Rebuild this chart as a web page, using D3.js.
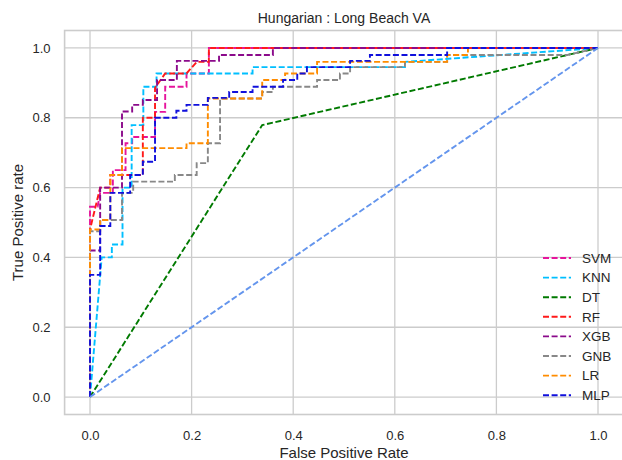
<!DOCTYPE html>
<html>
<head>
<meta charset="utf-8">
<script src="https://cdn.jsdelivr.net/npm/d3@7"></script>
<style>
  body { margin: 0; background: #fff; }
  svg { display: block; font-family: "Liberation Sans", Arial, sans-serif; }
</style>
</head>
<body>
<svg id="chart" width="622" height="460"></svg>
<script>
// ROC curves, Hungarian : Long Beach VA
const modelNames = ['SVM', 'KNN', 'DT', 'RF', 'XGB', 'GNB', 'LR', 'MLP'];
const modelColors = ['#e6149c', '#00bfff', '#007a00', '#ff1a1a', '#8b0a8b', '#888888', '#ff8c00', '#1010dc'];

// each curve as [fpr, tpr] pairs
const svm = [[0,0],[0,0.545],[0.015,0.545],[0.02,0.585],[0.045,0.585],[0.045,0.65],[0.07,0.65],[0.07,0.727],
  [0.083,0.727],[0.083,0.745],[0.128,0.745],[0.128,0.817],[0.148,0.817],[0.148,0.889],[0.19,0.889],
  [0.19,0.927],[0.234,0.927],[0.234,1],[1,1]];
const knn = [[0,0],[0.023,0.40],[0.043,0.40],[0.043,0.437],[0.064,0.437],[0.064,0.6],[0.082,0.6],[0.082,0.779],
  [0.105,0.779],[0.105,0.889],[0.131,0.889],[0.131,0.927],[0.32,0.927],[0.32,0.945],[0.62,0.945],
  [0.62,0.96],[1,1]];
const dt = [[0,0],[0.339,0.779],[1,1]];
const rf = [[0,0],[0,0.48],[0.02,0.6],[0.04,0.6],[0.04,0.636],[0.104,0.636],[0.104,0.8],[0.128,0.8],
  [0.128,0.886],[0.148,0.927],[0.19,0.927],[0.21,0.96],[0.234,0.96],[0.234,1],[1,1]];
const xgb = [[0,0],[0,0.42],[0.02,0.42],[0.02,0.6],[0.063,0.6],[0.063,0.818],[0.083,0.818],[0.083,0.837],
  [0.104,0.837],[0.104,0.851],[0.132,0.851],[0.132,0.908],[0.171,0.908],[0.171,0.963],[0.254,0.963],
  [0.254,0.98],[0.36,0.98],[0.36,1],[1,1]];
const gnb = [[0,0],[0,0.475],[0.02,0.475],[0.02,0.507],[0.063,0.507],[0.063,0.585],[0.085,0.585],[0.085,0.617],
  [0.167,0.617],[0.167,0.636],[0.21,0.636],[0.21,0.67],[0.232,0.67],[0.232,0.727],[0.256,0.727],
  [0.256,0.855],[0.339,0.855],[0.339,0.874],[0.36,0.874],[0.36,0.889],[0.447,0.889],[0.447,0.908],
  [0.492,0.908],[0.492,0.927],[0.512,0.927],[0.512,0.945],[0.62,0.945],[0.62,0.96],[0.703,0.96],
  [0.703,0.98],[0.94,0.98],[1,1]];
const lr = [[0,0],[0,0.48],[0.02,0.48],[0.02,0.507],[0.04,0.507],[0.04,0.636],[0.063,0.636],[0.063,0.713],
  [0.19,0.713],[0.19,0.727],[0.232,0.727],[0.232,0.855],[0.339,0.855],[0.339,0.908],[0.384,0.908],
  [0.384,0.927],[0.447,0.927],[0.447,0.96],[0.703,0.96],[0.703,0.98],[0.744,0.98],[0.744,1],[1,1]];
const mlp = [[0,0],[0,0.35],[0.02,0.35],[0.02,0.49],[0.04,0.49],[0.04,0.585],[0.079,0.585],[0.079,0.636],
  [0.104,0.636],[0.104,0.674],[0.128,0.674],[0.128,0.8],[0.17,0.8],[0.17,0.82],[0.19,0.82],[0.19,0.837],
  [0.232,0.837],[0.232,0.857],[0.274,0.857],[0.274,0.874],[0.32,0.874],[0.32,0.889],[0.38,0.889],
  [0.38,0.908],[0.408,0.908],[0.408,0.927],[0.427,0.927],[0.427,0.945],[0.512,0.945],[0.512,0.963],
  [0.551,0.963],[0.551,0.98],[0.703,0.98],[0.703,1],[1,1]];
const chance = [[0,0],[1,1]];

const curves = [svm, knn, dt, rf, xgb, gnb, lr, mlp];
const tickValues = [0, 0.2, 0.4, 0.6, 0.8, 1.0];

const svg = d3.select('#chart');
const grid = '#cccccc';
const ink = '#262626';
const dash = '6,2.6';
const lw = 1.9;

const x = d3.scaleLinear().domain([-0.05, 1.05]).range([64.6, 623.4]);
const y = d3.scaleLinear().domain([-0.05, 1.05]).range([414.5, 30.5]);

// grid
const gGrid = svg.append('g');
gGrid.selectAll('.vx').data(tickValues).join('line')
  .attr('x1', d => x(d)).attr('x2', d => x(d))
  .attr('y1', y.range()[0]).attr('y2', y.range()[1])
  .attr('stroke', grid).attr('stroke-width', 1.3);
gGrid.selectAll('.hy').data(tickValues).join('line')
  .attr('y1', d => y(d)).attr('y2', d => y(d))
  .attr('x1', x.range()[0]).attr('x2', x.range()[1])
  .attr('stroke', grid).attr('stroke-width', 1.3);

// frame
svg.append('rect')
  .attr('x', x.range()[0]).attr('y', y.range()[1])
  .attr('width', x.range()[1] - x.range()[0]).attr('height', y.range()[0] - y.range()[1])
  .attr('fill', 'none').attr('stroke', grid).attr('stroke-width', 1.6);

// axes (labels only, seaborn whitegrid has no tick marks)
const fmt = d3.format('.1f');
const axX = svg.append('g').attr('transform', `translate(0,${y.range()[0]})`)
  .call(d3.axisBottom(x).tickValues(tickValues).tickFormat(fmt).tickSize(0).tickPadding(16));
const axY = svg.append('g').attr('transform', `translate(${x.range()[0]},0)`)
  .call(d3.axisLeft(y).tickValues(tickValues).tickFormat(fmt).tickSize(0).tickPadding(14));
[axX, axY].forEach(a => {
  a.select('.domain').remove();
  a.selectAll('text').attr('fill', ink).style('font-size', '13px')
    .style('font-family', '"Liberation Sans", Arial, sans-serif');
});

// curves
const line = d3.line().x(d => x(d[0])).y(d => y(d[1]));
const gLines = svg.append('g');
gLines.selectAll('path').data(curves).join('path')
  .attr('d', line)
  .attr('fill', 'none')
  .attr('stroke', (d, i) => modelColors[i])
  .attr('stroke-width', lw)
  .attr('stroke-dasharray', dash);

gLines.append('path')
  .attr('d', line(chance))
  .attr('fill', 'none')
  .attr('stroke', '#6495ed')
  .attr('stroke-width', lw)
  .attr('stroke-dasharray', dash);

// legend
const lg = svg.append('g').attr('transform', 'translate(543,258)');
const item = lg.selectAll('g').data(modelNames).join('g')
  .attr('transform', (d, i) => `translate(0,${i * 19.6})`);
item.append('line')
  .attr('x1', 0).attr('x2', 28).attr('y1', 0).attr('y2', 0)
  .attr('stroke', (d, i) => modelColors[i])
  .attr('stroke-width', lw)
  .attr('stroke-dasharray', dash);
item.append('text')
  .attr('x', 39).attr('y', 0).attr('dy', '0.35em')
  .attr('fill', ink).style('font-size', '13.5px')
  .text(d => d);

// titles
const cx = (x.range()[0] + x.range()[1]) / 2;
svg.append('text').attr('x', cx).attr('y', 23).attr('text-anchor', 'middle')
  .attr('fill', ink).style('font-size', '14px').text('Hungarian : Long Beach VA');
svg.append('text').attr('x', cx).attr('y', 458).attr('text-anchor', 'middle')
  .attr('fill', ink).style('font-size', '15px').text('False Positive Rate');
svg.append('text').attr('transform', `translate(23,${(y.range()[0] + y.range()[1]) / 2}) rotate(-90)`)
  .attr('text-anchor', 'middle')
  .attr('fill', ink).style('font-size', '15px').text('True Positive rate');
</script>
</body>
</html>
